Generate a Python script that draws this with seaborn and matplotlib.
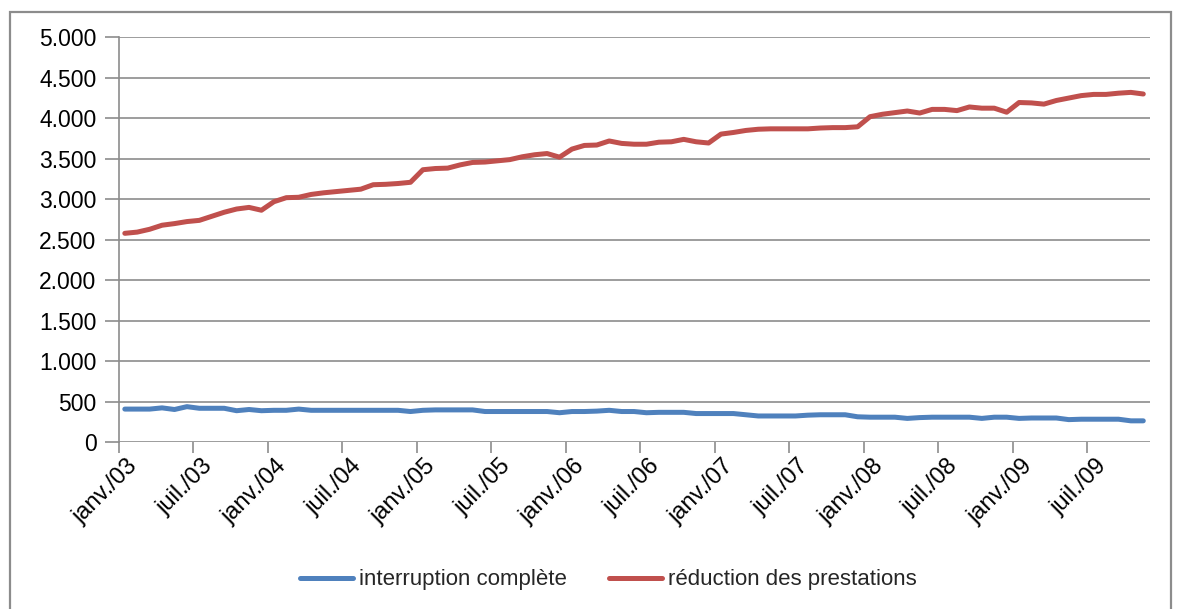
import matplotlib
matplotlib.use("Agg")
import matplotlib.pyplot as plt
from matplotlib.patches import Rectangle
from matplotlib.ticker import FuncFormatter
from matplotlib.transforms import ScaledTranslation
import numpy as np
import pandas as pd
import seaborn as sns

# Monthly counts, January 2003 to November 2009
interruption_complete = [
    410, 410, 410, 425, 405, 440, 420, 420, 420, 390, 405, 390,
    395, 395, 410, 395, 395, 395, 395, 395, 395, 395, 395, 380,
    395, 400, 400, 400, 400, 380, 380, 380, 380, 380, 380, 365,
    380, 380, 385, 395, 380, 380, 365, 370, 370, 370, 355, 355,
    355, 355, 340, 325, 325, 325, 325, 335, 340, 340, 340, 315,
    310, 310, 310, 295, 305, 310, 310, 310, 310, 295, 310, 310,
    295, 300, 300, 300, 280, 285, 285, 285, 285, 265, 265,
]
reduction_prestations = [
    2580, 2595, 2630, 2680, 2700, 2725, 2740, 2790, 2840, 2880, 2900, 2865,
    2970, 3020, 3025, 3060, 3080, 3095, 3110, 3125, 3180, 3185, 3195, 3210,
    3365, 3380, 3385, 3425, 3455, 3460, 3475, 3490, 3525, 3550, 3565, 3520,
    3620, 3665, 3670, 3720, 3690, 3680, 3680, 3705, 3710, 3740, 3710, 3695,
    3805, 3825, 3850, 3865, 3870, 3870, 3870, 3870, 3880, 3885, 3885, 3895,
    4020, 4050, 4070, 4090, 4065, 4110, 4110, 4095, 4140, 4125, 4125, 4075,
    4195, 4190, 4175, 4220, 4250, 4280, 4295, 4295, 4310, 4320, 4300,
]
series_names = ["interruption complète", "réduction des prestations"]
series_colors = ["#4F81BD", "#C0504D"]
tick_labels = ["janv./03", "juil./03", "janv./04", "juil./04", "janv./05",
               "juil./05", "janv./06", "juil./06", "janv./07", "juil./07",
               "janv./08", "juil./08", "janv./09", "juil./09"]

n = len(reduction_prestations)
month_pos = np.arange(n) + 0.5  # each month sits between its tick marks
df = pd.DataFrame({
    "mois": np.concatenate([month_pos, month_pos]),
    "valeur": interruption_complete + reduction_prestations,
    "série": [series_names[0]] * n + [series_names[1]] * n,
})

sns.set_theme(style="white")
plt.rcParams["font.family"] = ["Liberation Sans", "DejaVu Sans"]

W, H = 1180, 609
fig = plt.figure(figsize=(W / 100, H / 100), dpi=100)
fig.patch.set_facecolor("white")

# outer chart frame
fig.patches.append(Rectangle((10 / W, -0.05), 1161 / W, 1 - 12 / H + 0.05,
                             transform=fig.transFigure, fill=False,
                             edgecolor="#8c8c8c", linewidth=1.6, zorder=0))

ax = fig.add_axes([118.6 / W, 1 - 442.3 / H, (1149.5 - 118.6) / W, (442.3 - 37.3) / H])
sns.lineplot(data=df, x="mois", y="valeur", hue="série", palette=series_colors,
             linewidth=3.6, ax=ax, legend=False, solid_capstyle="round",
             solid_joinstyle="round", zorder=3)

ax.set_xlim(0, n)
ax.set_ylim(0, 5000)
ax.set_yticks(np.arange(0, 5001, 500))
ax.yaxis.set_major_formatter(FuncFormatter(lambda v, p: f"{int(v):,}".replace(",", ".")))
ax.set_xticks(np.arange(0, len(tick_labels) * 6, 6))
ax.set_xticklabels(tick_labels, rotation=45, ha="right", rotation_mode="anchor")
ax.set_xlabel("")
ax.set_ylabel("")

ax.grid(axis="y", color="#8c8c8c", linewidth=1.2, zorder=0)
for s in ["top", "right", "bottom"]:
    ax.spines[s].set_visible(False)
ax.spines["left"].set_color("#8c8c8c")
ax.spines["left"].set_linewidth(1.2)
ax.tick_params(axis="y", direction="out", length=10, width=1.2, color="#8c8c8c",
               labelsize=16.5, pad=6, left=True, labelcolor="black")
ax.tick_params(axis="x", direction="out", length=8, width=1.2, color="#8c8c8c",
               labelsize=17, pad=1, bottom=True, labelcolor="black")
shift = ScaledTranslation(8 / 100, 0, fig.dpi_scale_trans)
for lbl in ax.get_xticklabels():
    lbl.set_transform(lbl.get_transform() + shift)

handles = [plt.Line2D([0], [0], color=c, linewidth=3.6) for c in series_colors]
fig.legend(handles, series_names, loc="center", ncol=2, frameon=False,
           bbox_to_anchor=(608 / W, 1 - 580 / H), fontsize=16,
           handlelength=2.4, handletextpad=0.25, columnspacing=1.9)

fig.savefig("out.png", dpi=100, facecolor="white")
